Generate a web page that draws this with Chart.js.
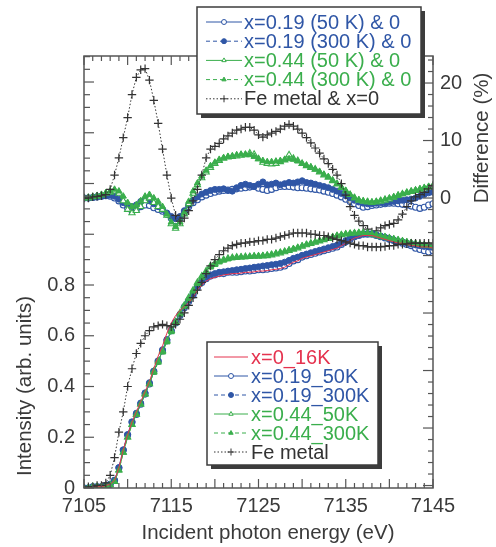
<!DOCTYPE html>
<html lang="en">
<head>
<meta charset="UTF-8">
<title>Fe K-edge XANES</title>
<script src="https://cdn.jsdelivr.net/npm/chart.js"></script>
<style>
  body { margin: 0; padding: 0; background: #fff; }
  #wrap { width: 496px; height: 547px; }
</style>
</head>
<body>
<div id="wrap"><canvas id="xanes" width="496" height="547"></canvas></div>
<script>
// photon energy grid (eV)
const energy = [
  7105, 7105.5, 7106, 7106.5, 7107, 7107.5, 7108, 7108.5, 7109, 7109.5,
  7110, 7110.5, 7111, 7111.5, 7112, 7112.5, 7113, 7113.5, 7114, 7114.5,
  7115, 7115.5, 7116, 7116.5, 7117, 7117.5, 7118, 7118.5, 7119, 7119.5,
  7120, 7120.5, 7121, 7121.5, 7122, 7122.5, 7123, 7123.5, 7124, 7124.5,
  7125, 7125.5, 7126, 7126.5, 7127, 7127.5, 7128, 7128.5, 7129, 7129.5,
  7130, 7130.5, 7131, 7131.5, 7132, 7132.5, 7133, 7133.5, 7134, 7134.5,
  7135, 7135.5, 7136, 7136.5, 7137, 7137.5, 7138, 7138.5, 7139, 7139.5,
  7140, 7140.5, 7141, 7141.5, 7142, 7142.5, 7143, 7143.5, 7144, 7144.5,
  7145
];

// intensity (arb. units), left axis
const int0_16K = [
  0, 0, 0.005, 0.005, 0.005, 0.01, 0.015, 0.03, 0.08, 0.15,
  0.21, 0.26, 0.30, 0.34, 0.38, 0.42, 0.47, 0.52, 0.56, 0.61,
  0.65, 0.68, 0.70, 0.715, 0.73, 0.75, 0.78, 0.80, 0.815, 0.825,
  0.83, 0.835, 0.84, 0.842, 0.845, 0.845, 0.847, 0.85, 0.85, 0.852,
  0.855, 0.855, 0.857, 0.86, 0.862, 0.865, 0.87, 0.88, 0.89, 0.895,
  0.905, 0.91, 0.915, 0.92, 0.925, 0.93, 0.935, 0.94, 0.945, 0.955,
  0.965, 0.975, 0.985, 0.99, 0.995, 0.995, 0.995, 0.99, 0.985, 0.98,
  0.975, 0.97, 0.965, 0.965, 0.96, 0.955, 0.955, 0.95, 0.95, 0.95,
  0.945
];
const int019_50K = [
  0, 0, 0.005, 0.005, 0.005, 0.01, 0.015, 0.03, 0.08, 0.15,
  0.21, 0.26, 0.29, 0.33, 0.37, 0.41, 0.46, 0.50, 0.54, 0.58,
  0.62, 0.65, 0.68, 0.71, 0.735, 0.76, 0.79, 0.81, 0.825, 0.835,
  0.84, 0.845, 0.845, 0.85, 0.85, 0.85, 0.852, 0.855, 0.855, 0.857,
  0.86, 0.86, 0.862, 0.865, 0.867, 0.87, 0.875, 0.885, 0.895, 0.90,
  0.91, 0.915, 0.92, 0.925, 0.93, 0.935, 0.94, 0.945, 0.95, 0.96,
  0.97, 0.98, 0.99, 0.995, 1.0, 1.0, 1.0, 0.995, 0.99, 0.985,
  0.98, 0.975, 0.97, 0.965, 0.96, 0.955, 0.945, 0.94, 0.935, 0.93,
  0.935
];
const int019_300K = [
  0, 0, 0.005, 0.005, 0.005, 0.01, 0.015, 0.03, 0.08, 0.15,
  0.21, 0.26, 0.295, 0.335, 0.375, 0.415, 0.46, 0.50, 0.545, 0.585,
  0.62, 0.655, 0.685, 0.715, 0.74, 0.765, 0.795, 0.815, 0.83, 0.84,
  0.845, 0.85, 0.852, 0.855, 0.857, 0.86, 0.862, 0.865, 0.867, 0.87,
  0.872, 0.875, 0.877, 0.88, 0.882, 0.885, 0.89, 0.897, 0.905, 0.91,
  0.917, 0.922, 0.927, 0.932, 0.937, 0.942, 0.947, 0.952, 0.957, 0.965,
  0.975, 0.985, 0.993, 0.998, 1.002, 1.003, 1.002, 0.998, 0.993, 0.988,
  0.983, 0.978, 0.973, 0.97, 0.966, 0.962, 0.958, 0.955, 0.952, 0.95,
  0.948
];
const int044_50K = [
  0, 0, 0.005, 0.005, 0.005, 0.008, 0.012, 0.025, 0.07, 0.14,
  0.20, 0.25, 0.29, 0.33, 0.37, 0.41, 0.46, 0.50, 0.54, 0.58,
  0.62, 0.655, 0.69, 0.72, 0.75, 0.78, 0.81, 0.835, 0.855, 0.875,
  0.885, 0.895, 0.90, 0.905, 0.908, 0.91, 0.91, 0.912, 0.912, 0.913,
  0.913, 0.914, 0.915, 0.918, 0.922, 0.926, 0.93, 0.935, 0.94, 0.945,
  0.952, 0.958, 0.963, 0.968, 0.973, 0.978, 0.983, 0.988, 0.993, 0.997,
  1.0, 1.002, 1.004, 1.005, 1.005, 1.003, 1.0, 0.996, 0.992, 0.988,
  0.984, 0.98, 0.976, 0.972, 0.968, 0.965, 0.962, 0.96, 0.957, 0.955,
  0.953
];
const int044_300K = [
  0, 0, 0.005, 0.005, 0.005, 0.008, 0.012, 0.025, 0.07, 0.14,
  0.20, 0.25, 0.29, 0.33, 0.37, 0.41, 0.455, 0.495, 0.535, 0.575,
  0.615, 0.65, 0.685, 0.715, 0.745, 0.775, 0.805, 0.83, 0.85, 0.87,
  0.88, 0.89, 0.897, 0.902, 0.906, 0.908, 0.91, 0.91, 0.912, 0.914,
  0.915, 0.916, 0.918, 0.921, 0.925, 0.929, 0.933, 0.938, 0.943, 0.948,
  0.954, 0.96, 0.965, 0.97, 0.975, 0.98, 0.985, 0.99, 0.995, 0.998,
  1.001, 1.003, 1.005, 1.006, 1.005, 1.003, 1.0, 0.997, 0.993, 0.99,
  0.986, 0.982, 0.978, 0.974, 0.97, 0.967, 0.964, 0.961, 0.958, 0.956,
  0.955
];
const intFe = [
  0, 0.005, 0.005, 0.01, 0.01, 0.02, 0.05, 0.12, 0.22, 0.30,
  0.40, 0.47, 0.53, 0.57, 0.60, 0.62, 0.635, 0.64, 0.645, 0.64,
  0.635, 0.645, 0.665, 0.69, 0.72, 0.75, 0.78, 0.81, 0.845, 0.875,
  0.90, 0.92, 0.935, 0.945, 0.955, 0.96, 0.965, 0.965, 0.97, 0.97,
  0.975, 0.975, 0.98, 0.98, 0.985, 0.99, 0.995, 1.0, 1.005, 1.005,
  1.005, 1.005, 1.0, 1.0, 0.995, 0.995, 0.99, 0.985, 0.98, 0.975,
  0.97, 0.965, 0.96, 0.955, 0.955, 0.95, 0.95, 0.95, 0.95, 0.952,
  0.955, 0.955, 0.96, 0.96, 0.962, 0.965, 0.965, 0.965, 0.965, 0.965,
  0.965
];

// difference (%), right axis
const diff019_50K = [
  0, 0, 0.1, 0.2, 0.3, 0.4, 0.3, 0, -0.5, -1.2,
  -1.8, -2.2, -2, -1.5, -1.2, -1.3, -1.7, -2, -2.3, -2.8,
  -3.5, -4, -3.5, -2.5, -1.5, -0.8, -0.3, 0.2, 0.5, 0.8,
  1, 1.2, 1.3, 1.4, 1.5, 1.6, 1.7, 1.8, 1.9, 2,
  1.7, 1.5, 1.3, 1.5, 1.8, 2, 2, 2, 1.9, 1.8,
  1.8, 1.7, 1.6, 1.5, 1.4, 1.2, 1, 0.8, 0.5, 0.2,
  -0.2, -0.6, -1, -1.3, -1.6, -1.5, -1.3, -1.2, -1.1, -1,
  -0.9, -0.9, -1, -1.1, -1.2, -1.4, -1.6, -1.8, -1.6, -1.2,
  -1
];
const diff019_300K = [
  0, 0, 0.1, 0.2, 0.3, 0.5, 0.5, 0.3, -0.2, -0.8,
  -1.2, -1.5, -1.2, -0.6, -0.3, -0.5, -1, -1.5, -2, -2.6,
  -3.2, -3.6, -3.2, -2.2, -1.2, -0.4, 0.2, 0.7, 1, 1.3,
  1.5, 1.5, 1.6, 1.3, 1.2, 1.8, 2.2, 2.4, 2.2, 2,
  2.4, 2.8, 2.3, 2.4, 2.6, 2.3, 2.5, 2.7, 2.6, 2.8,
  3, 2.7, 2.6, 2.4, 2.2, 2, 1.8, 1.5, 1.2, 0.8,
  0.4, 0, -0.4, -0.7, -0.9, -1, -1, -0.9, -0.8, -0.8,
  -0.7, -0.6, -0.5, -0.4, -0.3, -0.2, 0, 0.3, 0.6, 0.9,
  1
];
const diff044_50K = [
  0, 0, 0.2, 0.3, 0.5, 0.8, 1.0, 1.2, 0.8, -0.5,
  -2, -2.6, -2.2, -1.5, -0.5, 0, -0.8, -1.5, -2, -3,
  -4.5, -5.3, -4.5, -2.8, -1, 0.8, 2.3, 3.5, 4.5, 5.3,
  6, 6.5, 6.9, 7.1, 7.2, 7.3, 7.4, 7.5, 7.8, 7.6,
  6.8, 6.2, 6, 5.9, 6, 6.3, 6.6, 7.5, 6.9, 6.5,
  6, 5.6, 5.3, 5, 4.5, 4, 3.6, 3, 2.4, 1.8,
  1.2, 0.6, 0, -0.4, -0.6, -0.7, -0.8, -0.7, -0.6, -0.4,
  -0.2, 0.1, 0.4, 0.7, 0.9, 1.1, 1.3, 1.5, 1.7, 1.9,
  2
];
const diff044_300K = [
  0, 0.1, 0.2, 0.4, 0.6, 0.9, 1.2, 1.5, 1.2, 0.3,
  -0.8, -1.5, -1.2, -0.5, 0.3, 0.6, 0, -0.6, -1.5, -2.8,
  -4.2, -5, -4.2, -2.5, -0.6, 1.2, 2.6, 3.8, 4.8, 5.6,
  6.2, 6.7, 7, 7.2, 7.3, 7.5, 7.6, 7.6, 7.5, 7.2,
  6.8, 6.5, 6.3, 6.3, 6.4, 6.5, 6.7, 6.8, 6.7, 6.4,
  6, 5.7, 5.4, 5, 4.6, 4.1, 3.7, 3.1, 2.5, 1.9,
  1.3, 0.6, 0.1, -0.3, -0.5, -0.6, -0.7, -0.6, -0.4, -0.2,
  0, 0.2, 0.5, 0.7, 1, 1.2, 1.4, 1.6, 1.8, 2,
  2.2
];
const diffFe = [
  0, 0, 0.2, 0.3, 0.4, 0.6, 1.5, 4, 7, 10.5,
  14, 18, 21, 22.3, 22.5, 20.5, 17, 13, 8.5, 4,
  0, -3, -4, -3.5, -2.2, -0.5, 1.5, 4, 7, 8.5,
  9, 9.5, 10.3, 10.8, 11.3, 11.8, 12, 12.3, 12.3, 11.8,
  11, 10.6, 11, 11.3, 11.6, 12, 12.5, 12.8, 12.5, 12,
  11.3, 10.5, 9.6, 8.7, 7.8, 6.8, 6, 5, 4, 2.5,
  0.5, -1.5, -3, -4, -4.8, -5.4, -5.9, -5.7, -5.2, -4.8,
  -4.6, -4.4, -3.8, -2.8, -1.5, -0.5, 0.2, 0.6, 1, 1.6,
  2.2
];

const xTickLabels = [7105, 7115, 7125, 7135, 7145];
const yTickLabels = [0, 0.2, 0.4, 0.6, 0.8];
const y2TickLabels = [0, 10, 20];

const BLUE = '#2f56a6';
const GREEN = '#3aae4c';
const RED = '#e5324e';
const FE = '#333333';
const TXT = '#3a3a3a';
const FONT = "'Liberation Sans', Arial, Helvetica, sans-serif";

function pts(ys) {
    return ys.map((y, i) => ({ x: energy[i], y: y }));
}

function blueOpen(data, axis) {
    return { data: pts(data), yAxisID: axis, borderColor: BLUE, borderWidth: 1,
        pointStyle: 'circle', pointRadius: 3, pointBackgroundColor: '#fff',
        pointBorderColor: BLUE, pointBorderWidth: 1.1 };
}
function blueFilled(data, axis) {
    return { data: pts(data), yAxisID: axis, borderColor: BLUE, borderWidth: 1, borderDash: [4, 3],
        pointStyle: 'circle', pointRadius: 3, pointBackgroundColor: BLUE,
        pointBorderColor: BLUE, pointBorderWidth: 1 };
}
function greenOpen(data, axis) {
    return { data: pts(data), yAxisID: axis, borderColor: GREEN, borderWidth: 1,
        pointStyle: 'triangle', pointRadius: 3.6, pointBackgroundColor: '#fff',
        pointBorderColor: GREEN, pointBorderWidth: 1.1 };
}
function greenFilled(data, axis) {
    return { data: pts(data), yAxisID: axis, borderColor: GREEN, borderWidth: 1, borderDash: [4, 3],
        pointStyle: 'triangle', pointRadius: 3.6, pointBackgroundColor: GREEN,
        pointBorderColor: GREEN, pointBorderWidth: 1 };
}
function feCross(data, axis) {
    return { data: pts(data), yAxisID: axis, borderColor: FE, borderWidth: 1, borderDash: [1.5, 2],
        pointStyle: 'cross', pointRadius: 4.2, pointBackgroundColor: FE,
        pointBorderColor: FE, pointBorderWidth: 1.2 };
}

// first dataset is drawn on top
const datasets = [
    feCross(intFe, 'y'),
    { data: pts(int0_16K), yAxisID: 'y', borderColor: RED, borderWidth: 1, pointRadius: 0 },
    greenFilled(int044_300K, 'y'),
    greenOpen(int044_50K, 'y'),
    blueFilled(int019_300K, 'y'),
    blueOpen(int019_50K, 'y'),
    feCross(diffFe, 'y2'),
    greenFilled(diff044_300K, 'y2'),
    greenOpen(diff044_50K, 'y2'),
    blueFilled(diff019_300K, 'y2'),
    blueOpen(diff019_50K, 'y2')
];
datasets.forEach(d => { d.fill = false; d.tension = 0; });

const diffLegend = [
    { text: 'x=0.19 (50 K) & 0', color: BLUE, ds: 10 },
    { text: 'x=0.19 (300 K) & 0', color: BLUE, ds: 9 },
    { text: 'x=0.44 (50 K) & 0', color: GREEN, ds: 8 },
    { text: 'x=0.44 (300 K) & 0', color: GREEN, ds: 7 },
    { text: 'Fe metal & x=0', color: FE, ds: 6 }
];
const intLegend = [
    { text: 'x=0_16K', color: RED, ds: 1 },
    { text: 'x=0.19_50K', color: BLUE, ds: 5 },
    { text: 'x=0.19_300K', color: BLUE, ds: 4 },
    { text: 'x=0.44_50K', color: GREEN, ds: 3 },
    { text: 'x=0.44_300K', color: GREEN, ds: 2 },
    { text: 'Fe metal', color: FE, ds: 0 }
];

function seg(ctx, x0, y0, x1, y1) {
    ctx.beginPath();
    ctx.moveTo(x0, y0);
    ctx.lineTo(x1, y1);
    ctx.stroke();
}

// inward tick marks on all four sides plus the frame
const frameTicks = {
    id: 'frameTicks',
    afterDatasetsDraw(chart) {
        const { ctx, chartArea: a, scales } = chart;
        ctx.save();
        ctx.strokeStyle = '#555';
        ctx.lineWidth = 1.2;
        for (let e = 7105; e <= 7145; e++) {
            const px = scales.x.getPixelForValue(e);
            const len = (e - 7105) % 5 === 0 ? 9 : 5;
            seg(ctx, px, a.bottom, px, a.bottom - len);
            seg(ctx, px, a.top, px, a.top + len);
        }
        for (let k = 0; k <= 34; k++) {
            const py = scales.y.getPixelForValue(k * 0.05);
            seg(ctx, a.left, py, a.left + (k % 4 === 0 ? 10 : 6), py);
        }
        for (let v = -50; v <= 24; v += 2) {
            const py = scales.y2.getPixelForValue(v);
            seg(ctx, a.right, py, a.right - (v % 10 === 0 ? 10 : 5), py);
        }
        ctx.lineWidth = 1.5;
        ctx.strokeRect(a.left, a.top, a.right - a.left, a.bottom - a.top);
        ctx.restore();
    }
};

function drawLegend(chart, box, items) {
    const ctx = chart.ctx;
    ctx.save();
    ctx.fillStyle = '#3c3c3c';
    ctx.fillRect(box.x + 4, box.y + 4, box.w, box.h);
    ctx.fillStyle = '#fff';
    ctx.fillRect(box.x, box.y, box.w, box.h);
    ctx.strokeStyle = '#3c3c3c';
    ctx.lineWidth = 1.5;
    ctx.strokeRect(box.x, box.y, box.w, box.h);
    ctx.font = '20px ' + FONT;
    ctx.textAlign = 'left';
    ctx.textBaseline = 'middle';
    items.forEach((it, i) => {
        const ds = chart.data.datasets[it.ds];
        const y = box.row0 + i * box.rowH;
        ctx.strokeStyle = ds.borderColor;
        ctx.lineWidth = 1;
        ctx.setLineDash(ds.borderDash || []);
        seg(ctx, box.lx0, y, box.lx1, y);
        ctx.setLineDash([]);
        if (ds.pointRadius) {
            ctx.fillStyle = ds.pointBackgroundColor;
            ctx.strokeStyle = ds.pointBorderColor;
            ctx.lineWidth = 1;
            Chart.helpers.drawPoint(ctx, { pointStyle: ds.pointStyle, radius: ds.pointStyle === 'cross' ? 3.5 : 2.5, rotation: 0, borderWidth: 1 },
                (box.lx0 + box.lx1) / 2, y);
        }
        ctx.fillStyle = it.color;
        ctx.fillText(it.text, box.tx, y + 1);
    });
    ctx.restore();
}

const overlays = {
    id: 'overlays',
    afterDraw(chart) {
        const ctx = chart.ctx;
        ctx.save();
        ctx.fillStyle = TXT;
        ctx.font = '20.5px ' + FONT;
        ctx.textAlign = 'center';
        ctx.textBaseline = 'middle';
        ctx.fillText('Incident photon energy (eV)', 268, 533);
        ctx.translate(25, 386);
        ctx.rotate(-Math.PI / 2);
        ctx.fillText('Intensity (arb. units)', 0, 0);
        ctx.restore();
        ctx.save();
        ctx.fillStyle = TXT;
        ctx.font = '20.5px ' + FONT;
        ctx.textAlign = 'center';
        ctx.textBaseline = 'middle';
        ctx.translate(482, 138);
        ctx.rotate(-Math.PI / 2);
        ctx.fillText('Difference (%)', 0, 0);
        ctx.restore();

        drawLegend(chart, { x: 197, y: 7, w: 224, h: 107, row0: 22, rowH: 19.2, lx0: 206, lx1: 242, tx: 244 }, diffLegend);
        drawLegend(chart, { x: 207, y: 342, w: 171, h: 123, row0: 357, rowH: 19, lx0: 214, lx1: 248, tx: 251 }, intLegend);
    }
};

const tickFont = { family: FONT, size: 20 };

new Chart(document.getElementById('xanes').getContext('2d'), {
    type: 'line',
    data: { datasets: datasets },
    options: {
        responsive: false,
        animation: false,
        devicePixelRatio: 1,
        layout: { padding: { top: 56, left: 0, right: 0, bottom: 0 } },
        plugins: { legend: { display: false }, tooltip: { enabled: false } },
        scales: {
            x: {
                type: 'linear', min: 7105, max: 7145,
                afterFit: s => { s.height = 59; },
                grid: { display: false, drawTicks: false },
                border: { display: false },
                afterBuildTicks: s => { s.ticks = xTickLabels.map(v => ({ value: v })); },
                ticks: { color: TXT, font: tickFont, padding: 6, maxRotation: 0, autoSkip: false,
                    callback: v => String(v) }
            },
            y: {
                position: 'left', min: 0, max: 1.7025,
                afterFit: s => { s.width = 84; },
                grid: { display: false, drawTicks: false },
                border: { display: false },
                afterBuildTicks: s => { s.ticks = yTickLabels.map(v => ({ value: v })); },
                ticks: { color: TXT, font: tickFont, padding: 9,
                    callback: v => (v === 0 ? '0' : v.toFixed(1)) }
            },
            y2: {
                position: 'right', min: -50.43, max: 24.7,
                afterFit: s => { s.width = 63; },
                grid: { display: false, drawTicks: false },
                border: { display: false },
                afterBuildTicks: s => { s.ticks = y2TickLabels.map(v => ({ value: v })); },
                ticks: { color: TXT, font: tickFont, padding: 7,
                    callback: v => String(v) }
            }
        }
    },
    plugins: [frameTicks, overlays]
});
</script>
</body>
</html>
